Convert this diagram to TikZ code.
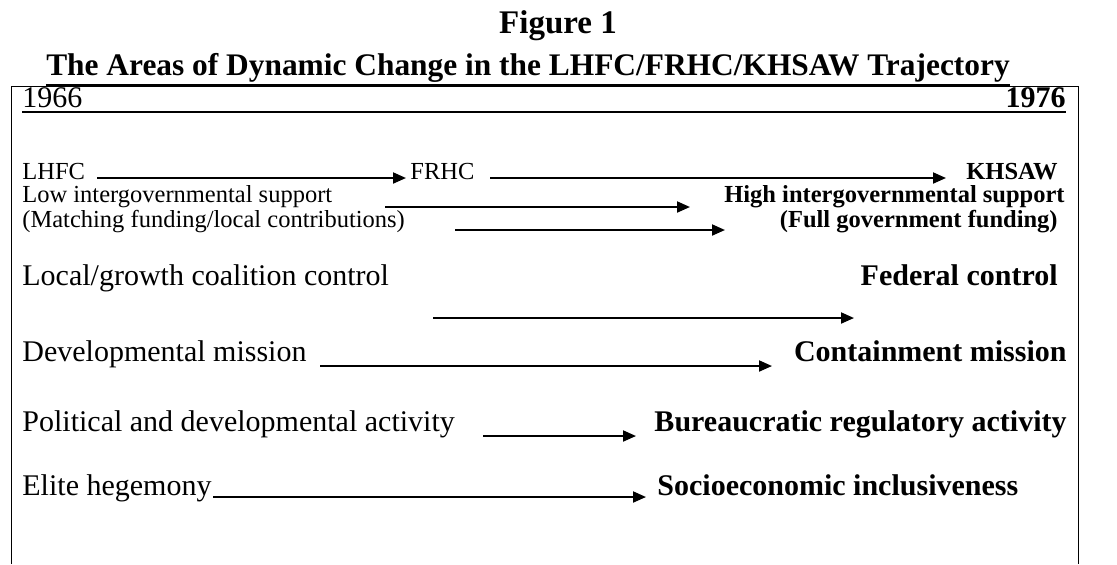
\documentclass[tikz,border=0pt]{standalone}
\usepackage{fontspec}
\setmainfont{Liberation Serif}
\usetikzlibrary{arrows.meta,calc}
\begin{document}
\begin{tikzpicture}[x=0.5pt,y=-0.5pt,
  sm/.style={font=\fontsize{12.25}{14}\selectfont, inner sep=0pt},
  big/.style={font=\fontsize{15}{18}\selectfont, inner sep=0pt},
  smb/.style={font=\fontsize{12.25}{14}\selectfont\bfseries, inner sep=0pt},
  bigb/.style={font=\fontsize{15}{18}\selectfont\bfseries, inner sep=0pt},
  ttl/.style={font=\fontsize{15.7}{18}\selectfont\bfseries, inner sep=0pt},
  fgl/.style={font=\fontsize{16.5}{19}\selectfont\bfseries, inner sep=0pt},
  arr/.style={line width=1pt, -{Triangle[length=6.5pt,width=5.5pt]}},
  frame/.style={line width=0.5pt},
  rule/.style={line width=0.8pt},
]
\useasboundingbox (0,0) rectangle (1117,564);

% titles
\node[fgl, anchor=base] (fig) at (558,33) {Figure 1};
\node[ttl, anchor=base] (title) at (528,75) {The Areas of Dynamic Change in the LHFC/FRHC/KHSAW Trajectory};
\draw[rule] ($(title.base west)+(0,10)$) -- ($(title.base east)+(0,10)$);

% frame
\coordinate (fbl) at (11,564);
\coordinate (ftl) at (11,86);
\coordinate (ftr) at (1078,86);
\coordinate (fbr) at (1078,564);
\draw[frame] (fbl) -- (ftl) -- (ftr) -- (fbr);

% years
\node[big, anchor=base west] (y66) at (22,107) {1966};
\node[bigb, anchor=base east] (y76) at (1066,107) {1976};
\draw[rule] ($(y66.base west)+(0,5)$) -- ($(y76.base east)+(0,5)$);

% row 1
\node[sm, anchor=base west] (lhfc) at (22,179) {LHFC};
\node[sm, anchor=base west] (frhc) at (410,179) {FRHC};
\node[smb, anchor=base east] (khsaw) at (1058,179) {KHSAW};
\coordinate (a1s) at (97,178);  \coordinate (a1e) at (406,178);
\coordinate (a2s) at (490,178); \coordinate (a2e) at (946,178);
\draw[arr] (a1s) -- (a1e);
\draw[arr] (a2s) -- (a2e);

% row 2
\node[sm, anchor=base west] (low) at (22,202) {Low intergovernmental support};
\node[smb, anchor=base east] (high) at (1065,202) {High intergovernmental support};
\coordinate (a3s) at (385,207); \coordinate (a3e) at (690,207);
\draw[arr] (a3s) -- (a3e);

% row 3
\node[sm, anchor=base west] (match) at (22,227) {(Matching funding/local contributions)};
\node[smb, anchor=base east] (full) at (1058,227) {(Full government funding)};
\coordinate (a4s) at (455,230); \coordinate (a4e) at (725,230);
\draw[arr] (a4s) -- (a4e);

% row 4
\node[big, anchor=base west] (local) at (22,285) {Local/growth coalition control};
\node[bigb, anchor=base east] (fed) at (1058,285) {Federal control};
\coordinate (a5s) at (433,318); \coordinate (a5e) at (854,318);
\draw[arr] (a5s) -- (a5e);

% row 5
\node[big, anchor=base west] (dev) at (22,361) {Developmental mission};
\node[bigb, anchor=base east] (cont) at (1067,361) {Containment mission};
\coordinate (a6s) at (320,366); \coordinate (a6e) at (772,366);
\draw[arr] (a6s) -- (a6e);

% row 6
\node[big, anchor=base west] (pol) at (22,431) {Political and developmental activity};
\node[bigb, anchor=base east] (bur) at (1067,431) {Bureaucratic regulatory activity};
\coordinate (a7s) at (483,436); \coordinate (a7e) at (636,436);
\draw[arr] (a7s) -- (a7e);

% row 7
\node[big, anchor=base west] (elite) at (22,495) {Elite hegemony};
\node[bigb, anchor=base west] (socio) at (657,495) {Socioeconomic inclusiveness};
\coordinate (a8s) at (213,497); \coordinate (a8e) at (646,497);
\draw[arr] (a8s) -- (a8e);
\end{tikzpicture}
\end{document}
